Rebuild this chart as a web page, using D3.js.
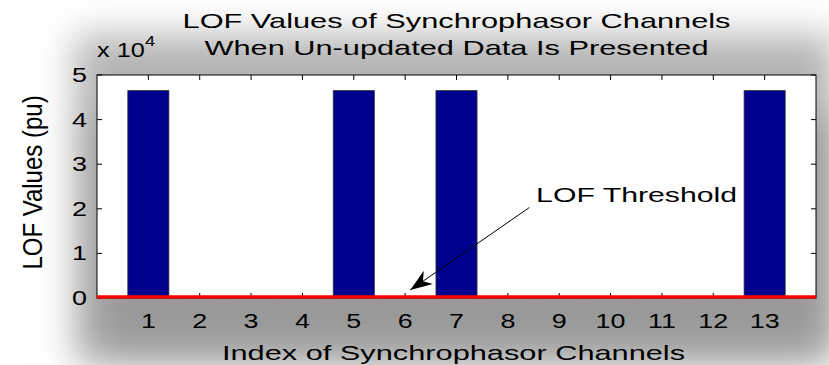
<!DOCTYPE html>
<html>
<head>
<meta charset="utf-8">
<script src="https://cdn.jsdelivr.net/npm/d3@7"></script>
<style>
  body { margin: 0; background: #fff; }
  svg { display: block; font-family: "Liberation Sans", Arial, sans-serif; }
</style>
</head>
<body>
<svg width="829" height="365"></svg>
<script>
// channel indices and LOF values (in units of 1e4)
var channels = [1, 2, 3, 4, 5, 6, 7, 8, 9, 10, 11, 12, 13];
var lofValues = [4.65, 0.0001, 0.0001, 0.0001, 4.65, 0.0001, 4.65, 0.0001, 0.0001, 0.0001, 0.0001, 0.0001, 4.65];
var threshold = 0.0002;
var yTicks = [0, 1, 2, 3, 4, 5];

// annotation: text anchor and arrow (data units)
var noteText = 'LOF Threshold';
var notePos = [8.55, 2.15];
var arrowFrom = [8.42, 2.03];
var arrowTo = [6.1, 0.18];

var svg = d3.select('svg');
var margin = {t: 75, r: 13, b: 67, l: 97};
var width = 829 - margin.l - margin.r;
var height = 365 - margin.t - margin.b;

var x = d3.scaleLinear().domain([0, 14]).range([margin.l, margin.l + width]);
var y = d3.scaleLinear().domain([0, 5]).range([margin.t + height, margin.t]);

// the original figure text is stretched sideways
function wideText(g, px, py, str, size, sx, anchor) {
    return g.append('text')
        .attr('transform', 'translate(' + px + ',' + py + ') scale(' + sx + ',1)')
        .attr('text-anchor', anchor || 'start')
        .attr('font-size', size)
        .text(str);
}

// soft grey glow behind the figure
var defs = svg.append('defs');
var blur = defs.append('filter').attr('id', 'glow')
    .attr('x', '-20%').attr('y', '-30%').attr('width', '140%').attr('height', '160%');
blur.append('feGaussianBlur').attr('stdDeviation', 18);

svg.append('rect')
    .attr('x', 75).attr('y', 35)
    .attr('width', 760).attr('height', 330)
    .attr('fill', '#b4b4b4')
    .attr('filter', 'url(#glow)');

svg.append('rect')
    .attr('x', margin.l).attr('y', margin.t + 40)
    .attr('width', width + 10).attr('height', height + 10)
    .attr('fill', '#999')
    .attr('filter', 'url(#glow)');

// plot box
svg.append('rect')
    .attr('x', margin.l).attr('y', margin.t)
    .attr('width', width).attr('height', height)
    .attr('fill', '#fff');

var bw = x(0.8) - x(0);

// tick marks (inside, all four sides)
var tickG = svg.append('g').attr('stroke', '#000').attr('stroke-width', 1);
channels.forEach(function(c) {
    tickG.append('line')
        .attr('x1', x(c)).attr('x2', x(c))
        .attr('y1', y(0)).attr('y2', y(0) - 5);
    tickG.append('line')
        .attr('x1', x(c)).attr('x2', x(c))
        .attr('y1', y(5)).attr('y2', y(5) + 5);
});
yTicks.forEach(function(t) {
    tickG.append('line')
        .attr('x1', x(0)).attr('x2', x(0) + 5)
        .attr('y1', y(t)).attr('y2', y(t));
    tickG.append('line')
        .attr('x1', x(14)).attr('x2', x(14) - 5)
        .attr('y1', y(t)).attr('y2', y(t));
});

// bars
svg.append('g').selectAll('rect')
    .data(channels)
    .enter().append('rect')
    .attr('x', function(d) { return x(d) - bw / 2; })
    .attr('y', function(d, i) { return y(lofValues[i]); })
    .attr('width', bw)
    .attr('height', function(d, i) { return y(0) - y(lofValues[i]); })
    .attr('fill', '#00008f')
    .attr('stroke', '#333')
    .attr('stroke-width', 0.8);

// axes box
svg.append('rect')
    .attr('x', margin.l).attr('y', margin.t)
    .attr('width', width).attr('height', height)
    .attr('fill', 'none')
    .attr('stroke', '#000')
    .attr('stroke-width', 1);

// threshold line
svg.append('line')
    .attr('x1', x(0)).attr('x2', x(14))
    .attr('y1', y(threshold) - 1).attr('y2', y(threshold) - 1)
    .attr('stroke', '#ff0000')
    .attr('stroke-width', 3.5);

// tick labels
var xl = svg.append('g');
channels.forEach(function(c) {
    wideText(xl, x(c), 328, c, 19.5, 1.38, 'middle');
});
var yl = svg.append('g');
yTicks.forEach(function(t) {
    wideText(yl, x(0) - 10, y(t) + 7, t, 19.5, 1.38, 'end');
});

// exponent label
var expo = wideText(svg, x(0), 57, 'x 10', 19.5, 1.3);
expo.append('tspan')
    .attr('dy', -11)
    .attr('font-size', 14)
    .text('4');

// titles
wideText(svg, x(7), 28, 'LOF Values of Synchrophasor Channels', 20.5, 1.5, 'middle');
wideText(svg, x(7), 55, 'When Un-updated Data Is Presented', 20.5, 1.5, 'middle');
wideText(svg, x(7) - 3, 360, 'Index of Synchrophasor Channels', 20.5, 1.5, 'middle');

svg.append('text')
    .attr('transform', 'translate(42,' + (y(2.5) - 4) + ') rotate(-90) scale(1.2,1.42)')
    .attr('text-anchor', 'middle')
    .attr('font-size', 20)
    .text('LOF Values (pu)');

// annotation
wideText(svg, x(notePos[0]), y(notePos[1]), noteText, 19.5, 1.55);

var x1 = x(arrowFrom[0]), y1 = y(arrowFrom[1]);
var x2 = x(arrowTo[0]), y2 = y(arrowTo[1]);
svg.append('line')
    .attr('x1', x1).attr('y1', y1)
    .attr('x2', x2).attr('y2', y2)
    .attr('stroke', '#000')
    .attr('stroke-width', 1);

var ang = Math.atan2(y2 - y1, x2 - x1);
var hl = 22, hw = 8;
var bx = x2 - hl * Math.cos(ang), by = y2 - hl * Math.sin(ang);
var mx = x2 - hl * 0.7 * Math.cos(ang), my = y2 - hl * 0.7 * Math.sin(ang);
var px = -Math.sin(ang), py = Math.cos(ang);
svg.append('path')
    .attr('d', 'M' + x2 + ',' + y2 +
        'L' + (bx + px * hw) + ',' + (by + py * hw) +
        'L' + mx + ',' + my +
        'L' + (bx - px * hw) + ',' + (by - py * hw) + 'Z')
    .attr('fill', '#000');
</script>
</body>
</html>
